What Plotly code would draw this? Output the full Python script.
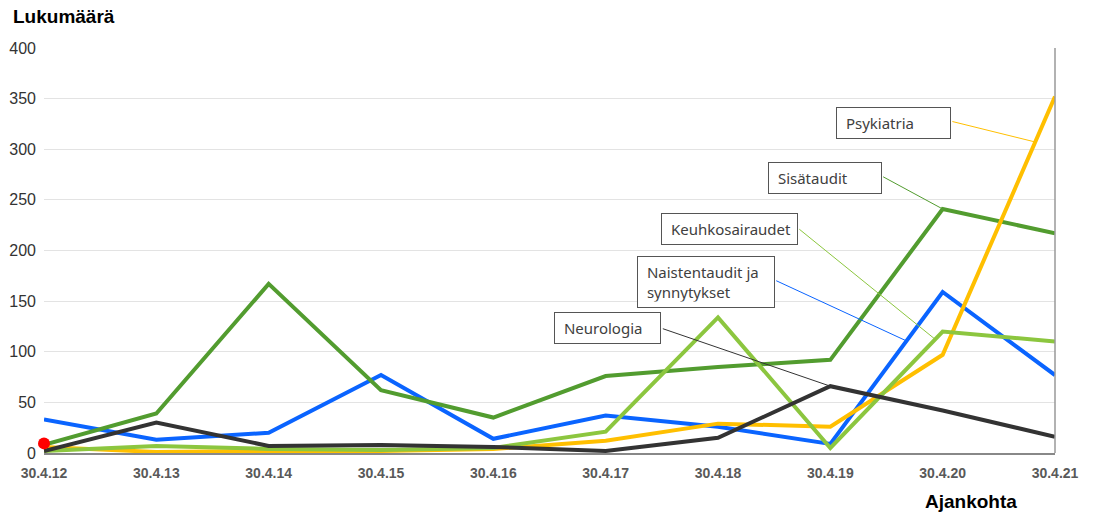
import plotly.graph_objects as go

# ---- data ----
dates = ["30.4.12", "30.4.13", "30.4.14", "30.4.15", "30.4.16",
         "30.4.17", "30.4.18", "30.4.19", "30.4.20", "30.4.21"]
naistentaudit = [33, 13, 20, 77, 14, 37, 26, 9, 159, 77]
sisataudit = [8, 39, 167, 62, 35, 76, 85, 92, 241, 217]
psykiatria = [6, 1, 2, 2, 4, 12, 29, 26, 97, 352]
keuhkosairaudet = [2, 7, 4, 3, 5, 21, 134, 5, 120, 110]
neurologia = [2, 30, 7, 8, 6, 2, 15, 66, 42, 16]
red_point_value = [9.5]
y_ticks = [0, 50, 100, 150, 200, 250, 300, 350, 400]

x_idx = list(range(len(dates)))

C_BLUE = "#0a64ff"
C_DGREEN = "#529c2f"
C_LGREEN = "#8cc63f"
C_YELLOW = "#ffbf00"
C_BLACK = "#333333"

series = [
    ("Naistentaudit ja synnytykset", naistentaudit, C_BLUE),
    ("Sisätaudit", sisataudit, C_DGREEN),
    ("Psykiatria", psykiatria, C_YELLOW),
    ("Keuhkosairaudet", keuhkosairaudet, C_LGREEN),
    ("Neurologia", neurologia, C_BLACK),
]

fig = go.Figure()
for name, vals, col in series:
    fig.add_trace(go.Scatter(x=x_idx, y=vals, mode="lines", name=name,
                             line=dict(color=col, width=4),
                             hoverinfo="skip"))
fig.add_trace(go.Scatter(x=[x_idx[0]], y=red_point_value, mode="markers",
                         marker=dict(color="#ff0000", size=12),
                         cliponaxis=False, hoverinfo="skip"))

L, R, T, B = 44, 38, 48, 61
W, H = 1093, 514
PW, PH = W - L - R, H - T - B

def px(xp):
    return (xp - L) / PW

def py(yp):
    return (T + PH - yp) / PH

NB = "\u00a0"
box_font = dict(family="Noto Sans", size=15, color="#404040")
# label boxes: (text, left px, top px, box width px)
boxes = [
    ("Psykiatria", 836, 107, 115),
    ("Sisätaudit", 768, 162, 114),
    ("Keuhkosairaudet", 661, 213, 137),
    ("Naistentaudit ja<br>" + NB + "synnytykset", 637, 256, 138),
    ("Neurologia", 554, 312, 107),
]
annotations = []
for text, lx, ty, bw in boxes:
    annotations.append(dict(
        text=NB + text, xref="paper", yref="paper", x=px(lx), y=py(ty),
        xanchor="left", yanchor="top", showarrow=False, align="left",
        width=bw - 12, borderpad=5, bordercolor="#555555", borderwidth=1,
        bgcolor="white", font=box_font))

# leader lines: (data x, data y, tail dx px, tail dy px, color)
leaders = [
    (8.83, 307, -85, -21, C_YELLOW),
    (8.0, 241, -61, -33, C_DGREEN),
    (7.93, 112.6, -137, -111, C_LGREEN),
    (7.68, 110.6, -132, -61, C_BLUE),
    (7.0, 66, -169, -58, C_BLACK),
]
for lx, ly, dx, dy, col in leaders:
    annotations.append(dict(
        text="", x=lx, y=ly, xref="x", yref="y", ax=dx, ay=dy,
        showarrow=True, arrowhead=0, arrowwidth=1, arrowcolor=col,
        standoff=0, startstandoff=0))

annotations.append(dict(text="<b>Lukumäärä</b>", xref="paper", yref="paper",
                        x=px(11), y=py(17), xanchor="left", yanchor="middle",
                        showarrow=False,
                        font=dict(family="Liberation Sans", size=19, color="#000000")))
annotations.append(dict(text="<b>Ajankohta</b>", xref="paper", yref="paper",
                        x=px(971), y=py(501), xanchor="center", yanchor="middle",
                        showarrow=False,
                        font=dict(family="Liberation Sans", size=19, color="#000000")))

fig.update_layout(
    width=W, height=H,
    margin=dict(l=L, r=R, t=T, b=B, pad=0, autoexpand=False),
    paper_bgcolor="white", plot_bgcolor="white",
    showlegend=False,
    annotations=annotations,
    xaxis=dict(range=[0, len(dates) - 1], tickmode="array", tickvals=x_idx,
               ticktext=["<b>" + d + "</b>" for d in dates],
               showgrid=False, zeroline=False, showline=True, automargin=False,
               linecolor="#888888", linewidth=2, ticks="",
               ticklabelstandoff=6,
               tickfont=dict(family="Liberation Sans", size=14, color="#595959")),
    yaxis=dict(range=[0, 400], tickmode="array", tickvals=y_ticks,
               showgrid=True, gridcolor="#e3e3e3", gridwidth=1, automargin=False,
               zeroline=False, showline=False, ticks="",
               ticklabelstandoff=7,
               tickfont=dict(family="Liberation Sans", size=16, color="#333333")),
    shapes=[dict(type="line", xref="paper", yref="paper", x0=1, x1=1, y0=0, y1=1,
                 line=dict(color="#999999", width=1.5))],
)

fig.write_html("out.html", config={"displayModeBar": False},
               post_script="document.body.style.margin='0';document.body.style.overflow='hidden';")
